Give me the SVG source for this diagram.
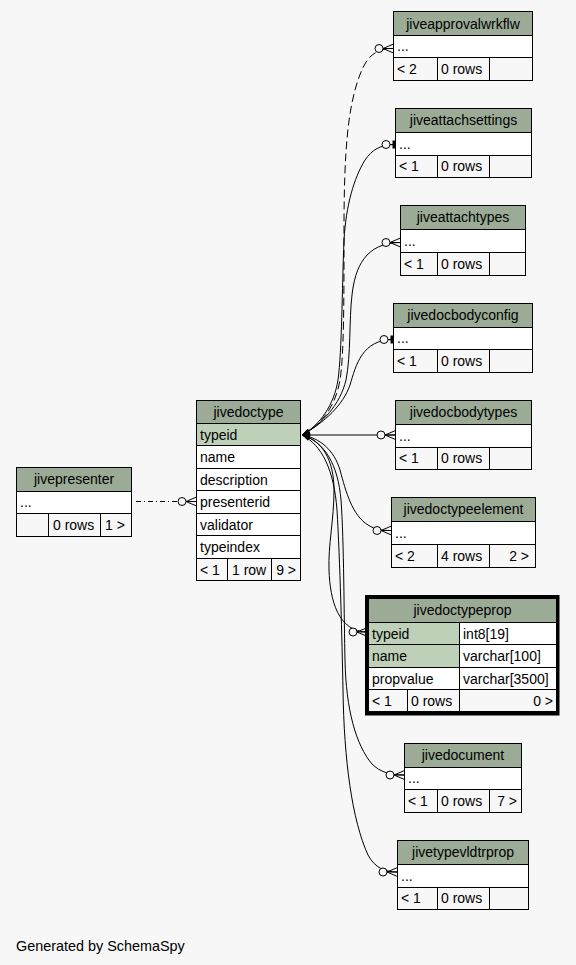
<svg xmlns="http://www.w3.org/2000/svg" width="576" height="965" viewBox="0 0 576 965">
<style>
text{font-family:"Liberation Sans",Arial,sans-serif;font-size:14px;fill:#000}
.c{text-anchor:middle}
.e{text-anchor:end}
.hdr{fill:#9bab96;stroke:#000;stroke-width:1}
.row{fill:#ffffff;stroke:#000;stroke-width:1}
.pk{fill:#bed1b8;stroke:#000;stroke-width:1}
.ftr{fill:#f7f7f7;stroke:#000;stroke-width:1}
.ln{stroke:#000;stroke-width:1}
.edge{fill:none;stroke:#000;stroke-width:1}
.dash{stroke-dasharray:8,4}
.dashdot{stroke-dasharray:5,3,1,3}
</style>
<defs>
<marker id="tail" viewBox="0 -4 8 8" refX="8" refY="0" markerWidth="8" markerHeight="8" markerUnits="userSpaceOnUse" orient="auto-start-reverse" overflow="visible">
<path d="M0,-2.5 L8,0 L0,2.5 z" fill="#000"/>
</marker>
<marker id="crow" viewBox="0 -6 19 12" refX="19" refY="0" markerWidth="19" markerHeight="12" markerUnits="userSpaceOnUse" orient="auto" overflow="visible">
<circle cx="4.5" cy="0" r="4" fill="#f7f7f7" stroke="#000" stroke-width="1"/>
<path d="M8.5,0 L19,-4.5 M8.5,0 L19,0 M8.5,0 L19,4.5" stroke="#000" stroke-width="1" fill="none"/>
</marker>
<marker id="tee" viewBox="0 -6 14 12" refX="14" refY="0" markerWidth="14" markerHeight="12" markerUnits="userSpaceOnUse" orient="auto" overflow="visible">
<circle cx="4.5" cy="0" r="4" fill="#f7f7f7" stroke="#000" stroke-width="1"/>
<path d="M8.5,0 L14,0" stroke="#000" stroke-width="1"/>
<rect x="11" y="-4" width="3" height="8" fill="#000"/>
</marker>
</defs>
<rect x="0" y="0" width="576" height="965" fill="#f7f7f7"/>

<g id="connectors">
<path class="edge dash" marker-start="url(#tail)" marker-end="url(#crow)" d="M302,435 C322,425 336,405 340,380 C344,355 344,300 344,230 C344,150 348,110 358,80 C365,60 372,48.5 393.5,48.5"/>
<path class="edge" marker-start="url(#tail)" marker-end="url(#tee)" d="M302,435 C320,425 334,405 338,380 C342,350 342,290 344,240 C346,205 354,178 365,160 C372,150 380,144.5 395.5,144.5"/>
<path class="edge" marker-start="url(#tail)" marker-end="url(#crow)" d="M302,435 C322,424 340,405 346,380 C351,355 349,320 352,295 C355,268 365,242.5 400.5,242.5"/>
<path class="edge" marker-start="url(#tail)" marker-end="url(#tee)" d="M302,435 C325,422 343,405 350,385 C356,365 362,339.5 393.5,339.5"/>
<path class="edge" marker-start="url(#tail)" marker-end="url(#crow)" d="M302,435 L395.5,435"/>
<path class="edge" marker-start="url(#tail)" marker-end="url(#crow)" d="M302,435 C320,438 334,450 340,470 C346,492 352,515 368,525 C376,530 382,530.5 391.5,530.5"/>
<path class="edge" marker-start="url(#tail)" marker-end="url(#crow)" d="M302,435 C322,440 334,460 334,490 C334,520 328,545 329,570 C330,600 338,632 367.5,632"/>
<path class="edge" marker-start="url(#tail)" marker-end="url(#crow)" d="M302,435 C325,442 338,465 341,500 C344,540 344,620 345,660 C346,710 356,745 372,764 C380,772 390,775 404.5,775"/>
<path class="edge" marker-start="url(#tail)" marker-end="url(#crow)" d="M302,435 C322,445 334,470 337,510 C340,560 342,640 343,690 C344,760 352,820 368,855 C375,868 385,872 397.5,872"/>
<path class="edge dashdot" marker-end="url(#crow)" d="M136,501.5 L196.5,501.5"/>
</g>

<g id="jiveapprovalwrkflw">
<rect class="hdr" x="393.5" y="11.5" width="139" height="24"/>
<rect class="row" x="393.5" y="35.5" width="139" height="22"/>
<rect class="ftr" x="393.5" y="57.5" width="139" height="23"/>
<line class="ln" x1="437.5" y1="57.5" x2="437.5" y2="80.5"/>
<line class="ln" x1="489.5" y1="57.5" x2="489.5" y2="80.5"/>
<text class="c" x="463" y="28.5">jiveapprovalwrkflw</text>
<text x="397" y="51">...</text>
<text x="397" y="74">&lt; 2</text>
<text x="441" y="74">0 rows</text>
</g>

<g id="jiveattachsettings">
<rect class="hdr" x="395.5" y="108.5" width="136" height="24"/>
<rect class="row" x="395.5" y="132.5" width="136" height="23"/>
<rect class="ftr" x="395.5" y="155.5" width="136" height="22"/>
<line class="ln" x1="437.5" y1="155.5" x2="437.5" y2="177.5"/>
<line class="ln" x1="489.5" y1="155.5" x2="489.5" y2="177.5"/>
<text class="c" x="463.5" y="125">jiveattachsettings</text>
<text x="399" y="148.5">...</text>
<text x="399" y="171">&lt; 1</text>
<text x="441" y="171">0 rows</text>
</g>

<g id="jiveattachtypes">
<rect class="hdr" x="400.5" y="205.5" width="125" height="24"/>
<rect class="row" x="400.5" y="229.5" width="125" height="23"/>
<rect class="ftr" x="400.5" y="252.5" width="125" height="23"/>
<line class="ln" x1="437.5" y1="252.5" x2="437.5" y2="275.5"/>
<line class="ln" x1="489.5" y1="252.5" x2="489.5" y2="275.5"/>
<text class="c" x="463" y="222">jiveattachtypes</text>
<text x="404" y="245.5">...</text>
<text x="404" y="268.5">&lt; 1</text>
<text x="441" y="268.5">0 rows</text>
</g>

<g id="jivedocbodyconfig">
<rect class="hdr" x="393.5" y="303.5" width="139" height="24"/>
<rect class="row" x="393.5" y="327.5" width="139" height="22"/>
<rect class="ftr" x="393.5" y="349.5" width="139" height="23"/>
<line class="ln" x1="437.5" y1="349.5" x2="437.5" y2="372.5"/>
<line class="ln" x1="489.5" y1="349.5" x2="489.5" y2="372.5"/>
<text class="c" x="463" y="320">jivedocbodyconfig</text>
<text x="397" y="343">...</text>
<text x="397" y="366">&lt; 1</text>
<text x="441" y="366">0 rows</text>
</g>

<g id="jivedocbodytypes">
<rect class="hdr" x="395.5" y="400.5" width="136" height="24"/>
<rect class="row" x="395.5" y="424.5" width="136" height="23"/>
<rect class="ftr" x="395.5" y="447.5" width="136" height="22"/>
<line class="ln" x1="437.5" y1="447.5" x2="437.5" y2="469.5"/>
<line class="ln" x1="489.5" y1="447.5" x2="489.5" y2="469.5"/>
<text class="c" x="463.5" y="417">jivedocbodytypes</text>
<text x="399" y="440.5">...</text>
<text x="399" y="463">&lt; 1</text>
<text x="441" y="463">0 rows</text>
</g>

<g id="jivedoctypeelement">
<rect class="hdr" x="391.5" y="497.5" width="144" height="24"/>
<rect class="row" x="391.5" y="521.5" width="144" height="23"/>
<rect class="ftr" x="391.5" y="544.5" width="144" height="23"/>
<line class="ln" x1="437.5" y1="544.5" x2="437.5" y2="567.5"/>
<line class="ln" x1="489.5" y1="544.5" x2="489.5" y2="567.5"/>
<text class="c" x="463.5" y="514">jivedoctypeelement</text>
<text x="395" y="537.5">...</text>
<text x="395" y="560.5">&lt; 2</text>
<text x="441" y="560.5">4 rows</text>
<text class="e" x="529" y="560.5">2 &gt;</text>
</g>

<g id="jivedoctypeprop">
<rect x="365" y="595" width="194.5" height="120.5" fill="#000"/>
<rect class="hdr" x="368.5" y="598.5" width="188" height="24"/>
<rect class="pk" x="368.5" y="622.5" width="91" height="22"/>
<rect class="row" x="459.5" y="622.5" width="97" height="22"/>
<rect class="pk" x="368.5" y="644.5" width="91" height="23"/>
<rect class="row" x="459.5" y="644.5" width="97" height="23"/>
<rect class="row" x="368.5" y="667.5" width="91" height="22"/>
<rect class="row" x="459.5" y="667.5" width="97" height="22"/>
<rect class="ftr" x="368.5" y="689.5" width="188" height="22"/>
<line class="ln" x1="407.5" y1="689.5" x2="407.5" y2="711.5"/>
<line class="ln" x1="459.5" y1="689.5" x2="459.5" y2="711.5"/>
<text class="c" x="462.5" y="615">jivedoctypeprop</text>
<text x="372" y="638.5">typeid</text>
<text x="463" y="638.5">int8[19]</text>
<text x="372" y="661">name</text>
<text x="463" y="661">varchar[100]</text>
<text x="372" y="683.5">propvalue</text>
<text x="463" y="683.5">varchar[3500]</text>
<text x="372" y="705.5">&lt; 1</text>
<text x="411" y="705.5">0 rows</text>
<text class="e" x="553" y="705.5">0 &gt;</text>
</g>

<g id="jivedocument">
<rect class="hdr" x="404.5" y="743.5" width="117" height="24"/>
<rect class="row" x="404.5" y="767.5" width="117" height="22"/>
<rect class="ftr" x="404.5" y="789.5" width="117" height="23"/>
<line class="ln" x1="437.5" y1="789.5" x2="437.5" y2="812.5"/>
<line class="ln" x1="489.5" y1="789.5" x2="489.5" y2="812.5"/>
<text class="c" x="463" y="760">jivedocument</text>
<text x="408" y="783">...</text>
<text x="408" y="806">&lt; 1</text>
<text x="441" y="806">0 rows</text>
<text class="e" x="517" y="806">7 &gt;</text>
</g>

<g id="jivetypevldtrprop">
<rect class="hdr" x="397.5" y="840.5" width="131" height="24"/>
<rect class="row" x="397.5" y="864.5" width="131" height="23"/>
<rect class="ftr" x="397.5" y="887.5" width="131" height="22"/>
<line class="ln" x1="437.5" y1="887.5" x2="437.5" y2="909.5"/>
<line class="ln" x1="489.5" y1="887.5" x2="489.5" y2="909.5"/>
<text class="c" x="463" y="857">jivetypevldtrprop</text>
<text x="401" y="880.5">...</text>
<text x="401" y="903">&lt; 1</text>
<text x="441" y="903">0 rows</text>
</g>

<g id="jivedoctype">
<rect class="hdr" x="196.5" y="400.5" width="104" height="23"/>
<rect class="pk" x="196.5" y="423.5" width="104" height="22"/>
<rect class="row" x="196.5" y="445.5" width="104" height="23"/>
<rect class="row" x="196.5" y="468.5" width="104" height="22"/>
<rect class="row" x="196.5" y="490.5" width="104" height="23"/>
<rect class="row" x="196.5" y="513.5" width="104" height="22"/>
<rect class="row" x="196.5" y="535.5" width="104" height="23"/>
<rect class="ftr" x="196.5" y="558.5" width="104" height="22"/>
<line class="ln" x1="227.5" y1="558.5" x2="227.5" y2="580.5"/>
<line class="ln" x1="271.5" y1="558.5" x2="271.5" y2="580.5"/>
<text class="c" x="248.5" y="417">jivedoctype</text>
<text x="200" y="439.5">typeid</text>
<text x="200" y="462">name</text>
<text x="200" y="484.5">description</text>
<text x="200" y="507">presenterid</text>
<text x="200" y="529.5">validator</text>
<text x="200" y="552">typeindex</text>
<text x="200" y="574.5">&lt; 1</text>
<text x="232" y="574.5">1 row</text>
<text class="e" x="296" y="574.5">9 &gt;</text>
</g>

<g id="jivepresenter">
<rect class="hdr" x="16.5" y="467.5" width="115" height="24"/>
<rect class="row" x="16.5" y="491.5" width="115" height="22"/>
<rect class="ftr" x="16.5" y="513.5" width="115" height="23"/>
<line class="ln" x1="48.5" y1="513.5" x2="48.5" y2="536.5"/>
<line class="ln" x1="100.5" y1="513.5" x2="100.5" y2="536.5"/>
<text class="c" x="74" y="484">jivepresenter</text>
<text x="20" y="507">...</text>
<text x="53" y="530">0 rows</text>
<text x="105" y="530">1 &gt;</text>
</g>

<text x="16" y="951" style="font-size:14.4px">Generated by SchemaSpy</text>
</svg>
